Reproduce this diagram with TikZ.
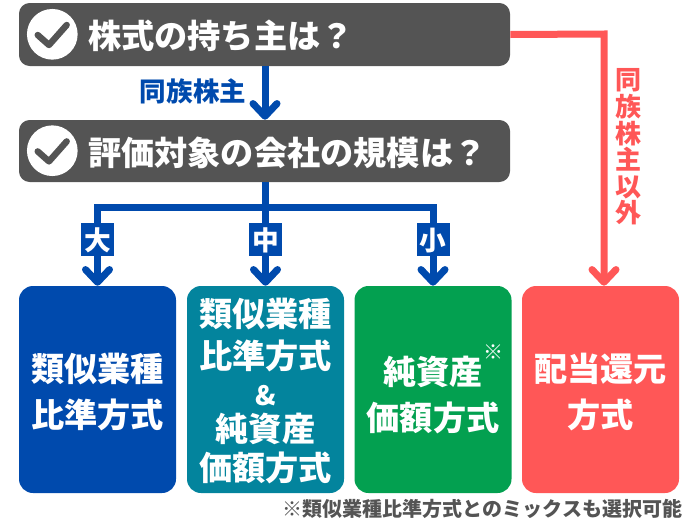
\documentclass[tikz,border=0pt]{standalone}
\usepackage{fontspec}
\setmainfont{Noto Sans CJK JP}
\usetikzlibrary{arrows.meta}
\definecolor{darkgray}{HTML}{545454}
\definecolor{flowblue}{HTML}{004AAD}
\definecolor{flowteal}{HTML}{03849D}
\definecolor{flowgreen}{HTML}{03A050}
\definecolor{flowred}{HTML}{FF5757}
\tikzset{
    questionbox/.style={fill=darkgray, rounded corners=8pt, inner sep=0pt, minimum width=368.25pt, text width=264.75pt, text height=24pt, text depth=3pt, align=left, text=white, font=\fontsize{24.9}{30}\selectfont\bfseries},
    checkdisc/.style={circle, fill=white, inner sep=0pt, minimum size=38pt},
    checkline/.style={draw=darkgray, line width=4.8pt, line cap=round, line join=round},
    methodbox/.style={rounded corners=10.5pt, inner sep=0pt, minimum width=117.75pt, minimum height=155.25pt},
    methodtext/.style={text=white, inner sep=0pt, align=center, font=\fontsize{24.9}{34.5}\selectfont\bfseries},
    sizetag/.style={fill=flowblue, text=white, inner sep=0pt, minimum size=24.75pt, text height=19pt, text depth=2.5pt, font=\fontsize{20}{24}\selectfont\bfseries},
    flowline/.style={draw=flowblue, line width=5.25pt},
    flowarrow/.style={flowline, -{Straight Barb[round, length=9.5pt, width=18pt]}},
    redarrow/.style={draw=flowred, line width=5.25pt, -{Straight Barb[round, length=9.5pt, width=18pt]}}
}
\begin{document}
\begin{tikzpicture}[x=0.75pt, y=-0.75pt]
            \useasboundingbox (0,0) rectangle (700,525);
            \node at (264.5,34.5) [questionbox, minimum height=47.25pt] (owner) {株式の持ち主は？};
            \node at (264.5,151) [questionbox, minimum height=46.5pt] (scale) {評価対象の会社の規模は？};
            \node at (52.3,34.3) [checkdisc] (tickone) {};
            \draw[checkline] (37.7,35) -- (49,45) -- (66.7,25);
            \node at (52.3,150.7) [checkdisc] (ticktwo) {};
            \draw[checkline] (37.7,151.4) -- (49,161.4) -- (66.7,141.4);
            \node at (97.5,389.5) [methodbox, fill=flowblue] (large) {};
            \node at (265.5,389.5) [methodbox, fill=flowteal] (medium) {};
            \node at (433,389.5) [methodbox, fill=flowgreen] (small) {};
            \node at (600.5,389.5) [methodbox, fill=flowred] (dividend) {};
            \node at (97.5,392.5) [methodtext] (largetext) {類似業種\\比準方式};
            \node at (265.5,391) [methodtext, font=\fontsize{24.9}{27}\selectfont\bfseries] (mediumtext) {類似業種\\[4.5pt]比準方式\\[0.75pt]{\fontsize{20}{27}\selectfont \&}\\純資産\\[2.25pt]価額方式};
            \node at (433,395.5) [methodtext] (smalltext) {純資産\\価額方式};
            \node at (600.5,392.5) [methodtext] (dividendtext) {配当還元\\方式};
            \node at (493.5,352) [text=white, inner sep=0pt, font=\fontsize{15}{18}\selectfont] (smallmark) {※};
            \draw[flowarrow] (owner.south -| 265,0) -- (scale.north -| 265,0);
            \node at (193,91) [text=flowblue, inner sep=0pt, font=\fontsize{19.9}{24}\selectfont\bfseries] (familylabel) {同族株主};
            \coordinate (hub) at (265.5,207);
            \draw[flowline] (scale.south -| hub) -- (hub);
            \draw[flowarrow] (hub) -| (large.north);
            \draw[flowarrow] (hub) -- (medium.north);
            \draw[flowarrow] (hub) -| (small.north);
            \node at (97.5,239) [sizetag] (largetag) {大};
            \node at (265.5,239) [sizetag] (mediumtag) {中};
            \node at (433,239) [sizetag] (smalltag) {小};
            \coordinate (redturn) at (604,34);
            \draw[redarrow] (owner.east) -- (redturn) -- (redturn |- dividend.north);
            \node at (628,147) [text=flowred, inner sep=0pt, align=center, font=\fontsize{19.5}{19.9}\selectfont\bfseries] (otherlabel) {同\\族\\株\\主\\以\\外};
            \node at (482.5,508.5) [text=darkgray, inner sep=0pt, font=\fontsize{15}{18}\selectfont\bfseries] (footnote) {※類似業種比準方式とのミックスも選択可能};
        \end{tikzpicture}
\end{document}
